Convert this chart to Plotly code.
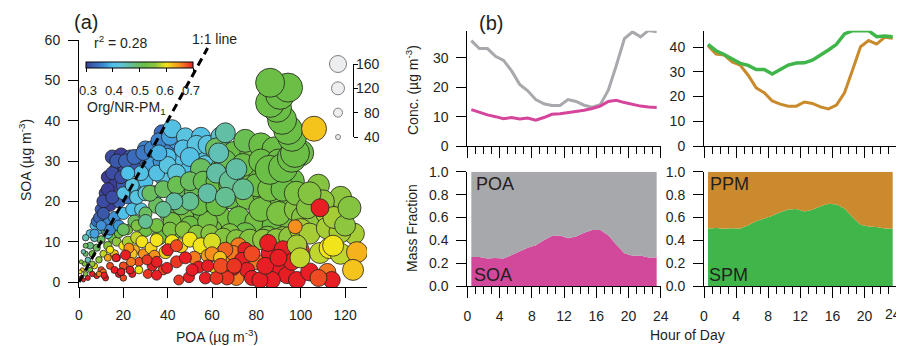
import plotly.graph_objects as go

# ---------------- Panel (a) data (POA, SOA, Org/NR-PM1, NR-PM1) ----------------
# small points near origin
poa_s = [1, 2, 3, 1.5, 4, 5, 2.5, 6, 4, 7, 8, 3, 6, 9, 10, 5, 8, 11, 12, 14, 7, 10, 13, 9, 12, 15, 16, 18, 20, 3,
         1, 2, 0.5, 11, 16, 20, 24, 11.3, 17, 19, 14, 17, 13, 6, 9, 18, 22, 20, 25, 29, 33, 27, 23, 31, 38, 5, 7, 3, 10]
soa_s = [1, 0.5, 2, 3, 1, 3, 4.5, 2, 5.5, 4, 1.5, 7, 7, 5.5, 3, 9, 8.5, 7, 1, 4, 11, 10.5, 9, 13, 12.5, 11, 7, 2, 4, 9,
         5, 7.5, 2.5, 2.5, 3, 1, 2, 1.7, 6, 2.5, 8, 10, 6, 4.5, 2, 12, 13, 9, 8, 7, 4, 5, 3, 2, 3, 12, 14, 11, 15]
frac_s = [0.68, 0.7, 0.55, 0.62, 0.7, 0.52, 0.54, 0.7, 0.45, 0.6, 0.7, 0.5, 0.52, 0.56, 0.68, 0.48, 0.5, 0.58, 0.7, 0.68,
          0.44, 0.5, 0.55, 0.42, 0.48, 0.52, 0.62, 0.7, 0.68, 0.5, 0.55, 0.46, 0.6, 0.66, 0.7, 0.68, 0.7, 0.7, 0.7, 0.7,
          0.6, 0.56, 0.64, 0.56, 0.66, 0.52, 0.53, 0.6, 0.63, 0.65, 0.7, 0.68, 0.7, 0.69, 0.68, 0.42, 0.4, 0.45, 0.38]
mass_s = [35, 30, 38, 32, 40, 42, 38, 45, 45, 50, 45, 42, 55, 55, 55, 60, 62, 60, 50, 60, 70, 70, 72, 80, 80, 82, 70, 60,
          70, 40, 30, 35, 30, 50, 60, 55, 60, 55, 65, 65, 65, 80, 60, 48, 45, 80, 90, 80, 90, 90, 90, 80, 70, 80, 90,
          70, 80, 55, 90]
# blue (low Org fraction)
poa_b = [37.5, 15, 19, 23, 27, 17, 21, 13, 25, 12, 16, 20, 10, 14, 18, 22, 8, 12, 16, 30, 34, 40, 44, 32, 37, 30, 26, 20, 24, 13,
         11, 13, 15, 17, 19, 9, 11, 15, 21, 25, 29, 33, 36, 41, 14, 18, 7, 10]
soa_b = [37, 31, 31.5, 31, 31, 28, 28, 26, 28, 22, 24, 24, 18, 19, 20, 21, 15, 15, 16, 33, 33, 34, 35, 29, 30, 25, 22, 17, 18, 12,
         20, 23, 27, 30, 26, 16, 17, 21, 30, 31, 32, 33, 35, 36, 13, 14, 12, 14]
frac_b = [0.34, 0.31, 0.3, 0.32, 0.33, 0.3, 0.31, 0.3, 0.32, 0.31, 0.3, 0.32, 0.32, 0.3, 0.33, 0.35, 0.34, 0.36, 0.37,
          0.36, 0.37, 0.36, 0.38, 0.38, 0.37, 0.4, 0.38, 0.4, 0.4, 0.42,
          0.31, 0.3, 0.31, 0.32, 0.31, 0.33, 0.32, 0.31, 0.33, 0.34, 0.35, 0.36, 0.36, 0.38, 0.36, 0.37, 0.38, 0.37]
mass_b = [150, 130, 130, 130, 140, 130, 130, 120, 140, 120, 120, 130, 110, 110, 120, 120, 100, 100, 110, 150, 150, 150,
          160, 150, 150, 140, 130, 110, 120, 90,
          120, 120, 120, 130, 120, 100, 110, 120, 130, 140, 140, 150, 150, 160, 100, 100, 80, 90]
# light blue
poa_l = [42, 48, 55, 52, 58, 45, 38, 46, 55, 62, 50, 60, 34, 28, 40,
         20, 24, 28, 22, 26, 30, 35, 40, 47, 53, 58, 64, 44, 50, 57, 36]
soa_l = [38, 36, 36, 32, 31, 30, 26, 25, 26, 34, 28, 28, 22, 18, 31,
         22, 24, 27, 27, 21, 22, 27, 29, 33, 34, 34, 36, 27, 31, 29, 32]
frac_l = [0.41, 0.42, 0.41, 0.4, 0.42, 0.41, 0.42, 0.43, 0.42, 0.43, 0.4, 0.42, 0.43, 0.43, 0.4,
          0.41, 0.42, 0.41, 0.4, 0.42, 0.43, 0.41, 0.42, 0.41, 0.42, 0.42, 0.44, 0.43, 0.41, 0.43, 0.39]
mass_l = [170, 170, 180, 180, 180, 170, 160, 160, 180, 190, 170, 190, 140, 120, 160,
          120, 130, 140, 130, 130, 140, 150, 160, 170, 180, 180, 190, 170, 180, 180, 150]
# green cloud
poa_g = [62, 70, 78, 86, 94, 100, 55, 64, 72, 80, 88, 96, 45, 52, 60, 68, 76, 84, 92, 100,
         35, 40, 48, 56, 64, 72, 80, 88, 96, 25, 30, 20, 60, 75, 85, 44, 52, 36, 75, 82, 88,
         42, 50, 58, 54, 46, 82, 90, 98, 92, 26, 30, 68, 62, 70, 84,
         32, 38, 44, 50, 56, 62, 68, 74, 80, 86, 92, 98, 35, 41, 47, 53, 59, 65, 71, 77, 83, 89, 95, 101, 66, 74, 82, 90]
soa_g = [33, 32, 32, 31, 30, 32, 28, 28, 27, 27, 26, 25, 22, 22, 22, 21, 21, 21, 20, 20,
         19, 17, 17, 17, 16, 16, 15, 14, 15, 15, 13, 13, 13, 12, 11, 13, 12, 11, 35, 34, 33,
         15, 14, 15, 19, 19, 18, 17, 18, 11, 14, 17, 12, 19, 24, 24,
         22, 23, 24, 25, 25, 25, 24, 24, 24, 23, 23, 22, 14, 13, 13, 12, 12, 11, 10.5, 10.5, 10.5, 10.5, 11, 16, 30, 29, 30, 30]
frac_g = [0.5, 0.52, 0.53, 0.52, 0.53, 0.52, 0.5, 0.52, 0.53, 0.52, 0.53, 0.52, 0.5, 0.51, 0.53, 0.52, 0.53, 0.52, 0.53, 0.52,
          0.5, 0.52, 0.53, 0.52, 0.53, 0.52, 0.53, 0.52, 0.53, 0.5, 0.52, 0.5, 0.53, 0.52, 0.53, 0.53, 0.54, 0.52, 0.51, 0.52, 0.52,
          0.53, 0.52, 0.53, 0.52, 0.5, 0.53, 0.54, 0.55, 0.56, 0.54, 0.5, 0.54, 0.52, 0.52, 0.53,
          0.5, 0.5, 0.51, 0.5, 0.51, 0.52, 0.52, 0.53, 0.52, 0.53, 0.52, 0.54, 0.53, 0.54, 0.55, 0.55, 0.55, 0.55, 0.55, 0.55,
          0.56, 0.56, 0.56, 0.55, 0.51, 0.52, 0.52, 0.52]
mass_g = [210, 220, 230, 240, 250, 250, 200, 210, 220, 230, 240, 240, 180, 190, 200, 220, 230, 230, 240, 240,
          150, 160, 170, 190, 200, 210, 220, 230, 230, 120, 130, 110, 190, 210, 220, 160, 170, 140, 220, 230, 230,
          170, 180, 190, 190, 180, 230, 230, 230, 210, 100, 120, 190, 200, 210, 230,
          150, 160, 170, 180, 190, 200, 210, 220, 220, 230, 230, 230, 130, 140, 150, 160, 170, 180, 190, 200, 200, 210,
          210, 220, 210, 220, 230, 230]
# teal
poa_t = [66, 63, 70, 58, 50, 43, 38, 30, 62, 68, 74, 66, 71]
soa_t = [37, 32, 27, 22, 20, 20, 18, 15, 27, 25, 23, 21, 28]
frac_t = [0.46, 0.45, 0.46, 0.46, 0.47, 0.46, 0.47, 0.47, 0.46, 0.47, 0.47, 0.47, 0.46]
mass_t = [190, 190, 190, 180, 170, 160, 150, 130, 190, 200, 200, 190, 200]
# yellow
poa_y = [22, 26, 28.4, 32.5, 35, 39, 42, 46, 50, 55, 60, 27, 61, 64, 24]
soa_y = [10, 11, 10, 8.4, 10.4, 7.4, 10, 9, 10.5, 9, 10, 3, 3.7, 6, 7]
frac_y = [0.57, 0.58, 0.6, 0.61, 0.6, 0.61, 0.6, 0.61, 0.6, 0.6, 0.59, 0.6, 0.61, 0.6, 0.62]
mass_y = [100, 110, 110, 110, 120, 120, 130, 130, 140, 150, 160, 70, 110, 120, 90]
# orange
poa_o = [22.5, 23.5, 34, 52, 68, 72, 80, 71, 69.5, 58, 66, 60, 63.6]
soa_o = [8.4, 5, 6.5, 6, 6, 9, 5, 1, 7.2, 6.5, 8, 7, 6]
frac_o = [0.65, 0.66, 0.65, 0.66, 0.65, 0.66, 0.66, 0.66, 0.66, 0.64, 0.67, 0.65, 0.62]
mass_o = [90, 80, 100, 120, 150, 150, 150, 140, 140, 120, 140, 130, 120]
# red
poa_r = [21, 35, 39.7, 44, 48, 54, 49.6, 45, 57, 35, 30.7, 16.7, 19, 40, 44, 75, 73.5, 75.8, 69.5, 66.8,
         78, 86, 89.8, 93.8, 87, 98.3, 104, 85.3, 81.6, 92, 62, 64, 78, 70, 51, 58, 84, 96, 100, 90]
soa_r = [6.7, 1.7, 3.5, 5, 6, 3.7, 1.2, 0.5, 1, 5, 5.5, 6, 2.5, 8, 9, 8, 5.5, 3, 3.5, 1,
         1, 7.2, 3.7, 1.7, 0.5, 0.5, 2.5, 9.7, 0.5, 8, 1, 4, 7, 4, 3, 4, 4, 5, 8, 6]
frac_r = [0.7, 0.7, 0.7, 0.69, 0.7, 0.7, 0.7, 0.69, 0.7, 0.7, 0.69, 0.7, 0.7, 0.7, 0.68, 0.7, 0.7, 0.7, 0.7, 0.69,
          0.7, 0.7, 0.7, 0.7, 0.7, 0.7, 0.7, 0.7, 0.7, 0.7, 0.69, 0.68, 0.68, 0.69, 0.7, 0.7, 0.7, 0.7, 0.69, 0.7]
mass_r = [90, 90, 100, 110, 110, 110, 100, 90, 110, 100, 90, 70, 65, 110, 110, 140, 140, 140, 140, 130,
          140, 160, 160, 160, 160, 160, 170, 160, 150, 170, 120, 140, 150, 140, 110, 110, 160, 160, 160, 160]
# right-hand side (high POA)
poa_h = [106, 112, 118, 108, 100, 124, 104, 98.3, 108.7, 99.7, 113, 112, 117.7, 103, 110, 115, 120, 104, 118, 114.6,
         97.5, 108.7, 122, 125.4, 123.6, 112, 114, 108]
soa_h = [15, 17, 21, 24, 13, 12, 12, 9.2, 7.2, 6, 8.4, 13.4, 12.4, 18.4, 20, 16, 14, 22, 7, 9,
         13.7, 18.4, 18.4, 7.4, 3, 2.5, 0.5, 1]
frac_h = [0.56, 0.57, 0.56, 0.55, 0.57, 0.57, 0.57, 0.57, 0.58, 0.58, 0.6, 0.57, 0.57, 0.55, 0.56, 0.57, 0.56, 0.55, 0.58, 0.6,
          0.65, 0.7, 0.55, 0.63, 0.62, 0.66, 0.7, 0.68]
mass_h = [210, 220, 210, 210, 210, 200, 200, 190, 200, 190, 200, 210, 210, 210, 220, 210, 200, 220, 200, 200,
          130, 170, 220, 200, 200, 160, 160, 160]
# the high-SOA episode
poa_e = [86, 92, 96, 97.4, 96.1, 94.3, 91.6, 89.3, 86.2, 90.7, 94.3, 86.2, 106]
soa_e = [27.8, 28.3, 30.8, 32, 36, 37.7, 40.2, 43.2, 44.4, 46.4, 48.2, 49.4, 38]
frac_e = [0.52, 0.52, 0.52, 0.52, 0.52, 0.52, 0.52, 0.52, 0.52, 0.52, 0.52, 0.52, 0.62]
mass_e = [280, 280, 280, 280, 280, 280, 280, 280, 280, 280, 280, 280, 240]

size_keys = [40, 80, 120, 160]
frac_ticks = [0.3, 0.4, 0.5, 0.6, 0.7]

# ---------------- Panel (b) data ----------------
hours = [0.5, 1.5, 2.5, 3.5, 4.5, 5.5, 6.5, 7.5, 8.5, 9.5, 10.5, 11.5,
         12.5, 13.5, 14.5, 15.5, 16.5, 17.5, 18.5, 19.5, 20.5, 21.5, 22.5, 23.5]
poa_conc = [35.9, 33.2, 33.2, 30.6, 29.2, 25.6, 21.0, 18.8, 15.8, 14.4, 13.8, 13.8,
            15.8, 15.2, 13.9, 13.2, 14.1, 19.0, 27.5, 36.6, 38.9, 37.2, 39.4, 38.9]
soa_conc = [12.4, 11.4, 10.6, 10.0, 9.3, 9.7, 9.2, 9.5, 8.8, 9.7, 10.8, 11.0,
            11.4, 11.7, 12.2, 12.8, 13.6, 15.2, 15.6, 14.8, 14.2, 13.6, 13.3, 13.1]
spm_conc = [41.1, 38.5, 37.0, 35.0, 33.4, 32.6, 30.9, 30.9, 29.1, 30.9, 32.7, 33.5,
            33.6, 34.7, 36.6, 38.8, 41.1, 45.3, 46.6, 46.6, 46.6, 44.2, 44.5, 44.2]
ppm_conc = [40.5, 37.2, 36.8, 34.0, 32.7, 28.6, 23.5, 21.5, 18.2, 16.9, 16.1, 16.1,
            17.8, 17.2, 15.8, 15.0, 16.5, 21.5, 30.7, 40.1, 42.6, 41.2, 43.9, 43.5]

poa = poa_s + poa_b + poa_l + poa_g + poa_t + poa_y + poa_o + poa_r + poa_h + poa_e
soa = soa_s + soa_b + soa_l + soa_g + soa_t + soa_y + soa_o + soa_r + soa_h + soa_e
org_frac = frac_s + frac_b + frac_l + frac_g + frac_t + frac_y + frac_o + frac_r + frac_h + frac_e
nr_pm1 = mass_s + mass_b + mass_l + mass_g + mass_t + mass_y + mass_o + mass_r + mass_h + mass_e

# the page body has an 8 px margin, so the figure is drawn 8 px in from the window corner
OFF = 8
W, H = 904, 346
FONT = "Liberation Sans, Arial, sans-serif"
TXT = "#231f20"


def px(x):
    return (x - OFF) / W


def py(y):
    return 1 - (y - OFF) / H


def diam(m):
    return 1 + 0.1 * m


jet = [[0.0, "#3c3d97"], [0.04, "#3a55a8"], [0.1, "#3b6cbb"], [0.17, "#3d8fd4"], [0.25, "#4fc0e8"],
       [0.32, "#5ec4dc"], [0.4, "#62bfa6"], [0.48, "#69be6a"], [0.55, "#6bbf46"], [0.65, "#8ec63f"],
       [0.75, "#f2e41b"], [0.87, "#f7941d"], [1.0, "#e81e25"]]

CB_X0, CB_X1 = 86, 193

fig = go.Figure()

fig.add_trace(go.Scatter(
    x=poa, y=soa, mode="markers", xaxis="x", yaxis="y",
    marker=dict(size=[diam(m) for m in nr_pm1], color=org_frac, cmin=0.3, cmax=0.7,
                colorscale=jet, line=dict(color="#231f20", width=0.8), opacity=1,
                showscale=True,
                colorbar=dict(orientation="h", x=px((CB_X0 + CB_X1) / 2), xanchor="center",
                              y=py(62), yanchor="top", thickness=6, len=CB_X1 - CB_X0, lenmode="pixels",
                              xpad=0, ypad=0, outlinewidth=1, outlinecolor="black",
                              tickvals=frac_ticks, showticklabels=False,
                              ticks="outside", ticklen=4, tickcolor="black")),
    showlegend=False))

# size key
fig.add_trace(go.Scatter(
    x=[1] * len(size_keys), y=size_keys, mode="markers", xaxis="x6", yaxis="y6", cliponaxis=False,
    marker=dict(size=[diam(m) for m in size_keys], color="#e6e7e9",
                line=dict(color="#231f20", width=0.8)), showlegend=False))

# panel b top-left
fig.add_trace(go.Scatter(x=hours, y=poa_conc, mode="lines", xaxis="x2", yaxis="y2",
                         line=dict(color="#a7a9ac", width=3), showlegend=False))
fig.add_trace(go.Scatter(x=hours, y=soa_conc, mode="lines", xaxis="x2", yaxis="y2",
                         line=dict(color="#d4459b", width=3), showlegend=False))
# panel b top-right
fig.add_trace(go.Scatter(x=hours, y=ppm_conc, mode="lines", xaxis="x3", yaxis="y3",
                         line=dict(color="#c98a2c", width=3), showlegend=False))
fig.add_trace(go.Scatter(x=hours, y=spm_conc, mode="lines", xaxis="x3", yaxis="y3",
                         line=dict(color="#3fb54a", width=3.5), showlegend=False))
# panel b bottom-left fractions
fig.add_trace(go.Scatter(x=hours, y=soa_conc, mode="lines", xaxis="x4", yaxis="y4",
                         stackgroup="org", groupnorm="fraction", line=dict(width=0),
                         fillcolor="#d2489a", showlegend=False))
fig.add_trace(go.Scatter(x=hours, y=poa_conc, mode="lines", xaxis="x4", yaxis="y4",
                         stackgroup="org", line=dict(width=0),
                         fillcolor="#a6a8ab", showlegend=False))
# panel b bottom-right fractions
fig.add_trace(go.Scatter(x=hours, y=spm_conc, mode="lines", xaxis="x5", yaxis="y5",
                         stackgroup="pm", groupnorm="fraction", line=dict(width=0),
                         fillcolor="#40b64a", showlegend=False))
fig.add_trace(go.Scatter(x=hours, y=ppm_conc, mode="lines", xaxis="x5", yaxis="y5",
                         stackgroup="pm", line=dict(width=0),
                         fillcolor="#cb8a2d", showlegend=False))

tickfont = dict(size=14, family=FONT, color=TXT)
common = dict(showline=True, linecolor="black", linewidth=1, ticks="outside", tickcolor="black",
              tickwidth=1, showgrid=False, zeroline=False, tickfont=tickfont, automargin=False,
              ticklabeloverflow="allow")

dom_a_x = [px(79), px(367)]
dom_a_y = [py(287), py(40)]
dom_bl_x = [px(467.3), px(660.7)]
dom_br_x = [px(704), px(896.7)]
dom_top_y = [py(146), py(30.7)]
dom_bot_y = [py(286.3), py(171.7)]

hour_ticks = [0, 4, 8, 12, 16, 20, 24]
hour_text = [str(h) for h in hour_ticks]
xb = dict(common, range=[0, 24], tickvals=hour_ticks, ticklen=11, ticklabelstandoff=6,
          minor=dict(dtick=1, tick0=0, ticks="outside", ticklen=7, tickcolor="black", tickwidth=1))

fig.update_layout(
    template="none",
    width=W, height=H, margin=dict(l=0, r=0, t=0, b=0, autoexpand=False),
    paper_bgcolor="white", plot_bgcolor="rgba(0,0,0,0)",
    font=dict(family=FONT, color=TXT),
    xaxis=dict(common, domain=dom_a_x, range=[0, 129.9], tickvals=[0, 20, 40, 60, 80, 100, 120],
               ticklen=10, ticklabelstandoff=5, anchor="y"),
    yaxis=dict(common, domain=dom_a_y, range=[-1.24, 60], tickvals=[0, 10, 20, 30, 40, 50, 60],
               ticklen=10, ticklabelstandoff=5, anchor="x"),
    xaxis2=dict(xb, domain=dom_bl_x, anchor="y2", showticklabels=False),
    yaxis2=dict(common, domain=dom_top_y, range=[0, 39.3], tickvals=[0, 10, 20, 30], ticklen=10,
                ticklabelstandoff=5, anchor="x2"),
    xaxis3=dict(xb, domain=dom_br_x, anchor="y3", showticklabels=False),
    yaxis3=dict(common, domain=dom_top_y, range=[0, 46.6], tickvals=[0, 10, 20, 30, 40], ticklen=10,
                ticklabelstandoff=5, anchor="x3"),
    xaxis4=dict(xb, domain=dom_bl_x, anchor="y4"),
    yaxis4=dict(common, domain=dom_bot_y, range=[0, 1], tickvals=[0, 0.2, 0.4, 0.6, 0.8, 1.0],
                tickformat=".1f", ticklen=10, ticklabelstandoff=5, anchor="x4"),
    # last label of the right-hand axis is written as an annotation so that it is not cut at the window edge
    xaxis5=dict(xb, domain=dom_br_x, anchor="y5", ticktext=hour_text[:-1] + [""]),
    yaxis5=dict(common, domain=dom_bot_y, range=[0, 1], tickvals=[0, 0.2, 0.4, 0.6, 0.8, 1.0],
                tickformat=".1f", ticklen=10, ticklabelstandoff=5, anchor="x5"),
    xaxis6=dict(domain=[px(323), px(353)], range=[0, 2], visible=False, anchor="y6", automargin=False),
    yaxis6=dict(domain=[py(137), py(64)], range=[40, 160], side="right", anchor="x6",
                showline=True, linecolor="black", linewidth=1, ticks="outside", ticklen=4,
                tickcolor="black", tickvals=size_keys, showticklabels=False,
                showgrid=False, zeroline=False, automargin=False),
)

# 1:1 line
fig.add_shape(type="line", xref="x", yref="y", x0=0, y0=0, x1=58, y1=58,
              line=dict(color="black", width=3, dash="8px,5px"), layer="above")


def ann(text, x, y, size=14, xanchor="center", yanchor="middle", angle=0):
    fig.add_annotation(text=text, x=px(x), y=py(y), xref="paper", yref="paper",
                       showarrow=False, xanchor=xanchor, yanchor=yanchor, textangle=angle,
                       font=dict(size=size, family=FONT, color=TXT))


for v in size_keys:
    fig.add_annotation(text=str(v), x=px(382), y=v, xref="paper", yref="y6", showarrow=False,
                       xanchor="right", yanchor="middle", font=dict(size=14, family=FONT, color=TXT))

# colour-bar tick labels and title
for v in frac_ticks:
    ann(f"{v:.1f}", CB_X0 + 2 + (v - 0.3) / 0.4 * (CB_X1 - CB_X0 - 4), 91, size=13)
ann("Org/NR-PM<sub>1</sub>", 85, 108, xanchor="left")

ann(hour_text[-1], 903, 314, xanchor="right")

ann("(a)", 72, 22, size=20, xanchor="left")
ann("(b)", 477, 23, size=20, xanchor="left")
ann("r<sup>2</sup> = 0.28", 92, 42, xanchor="left")
ann("1:1 line", 190, 39, xanchor="left")
ann("SOA (µg m<sup>-3</sup>)", 25, 160, angle=-90)
ann("POA (µg m<sup>-3</sup>)", 217, 336)
ann("Conc. (µg m<sup>-3</sup>)", 412, 90, angle=-90)
ann("Mass Fraction", 412, 228, angle=-90)
ann("Hour of Day", 687, 335)
ann("POA", 474, 184, size=18, xanchor="left")
ann("SOA", 472, 275, size=18, xanchor="left")
ann("PPM", 708, 184, size=18, xanchor="left")
ann("SPM", 707, 275, size=18, xanchor="left")

fig.write_html("out.html")
